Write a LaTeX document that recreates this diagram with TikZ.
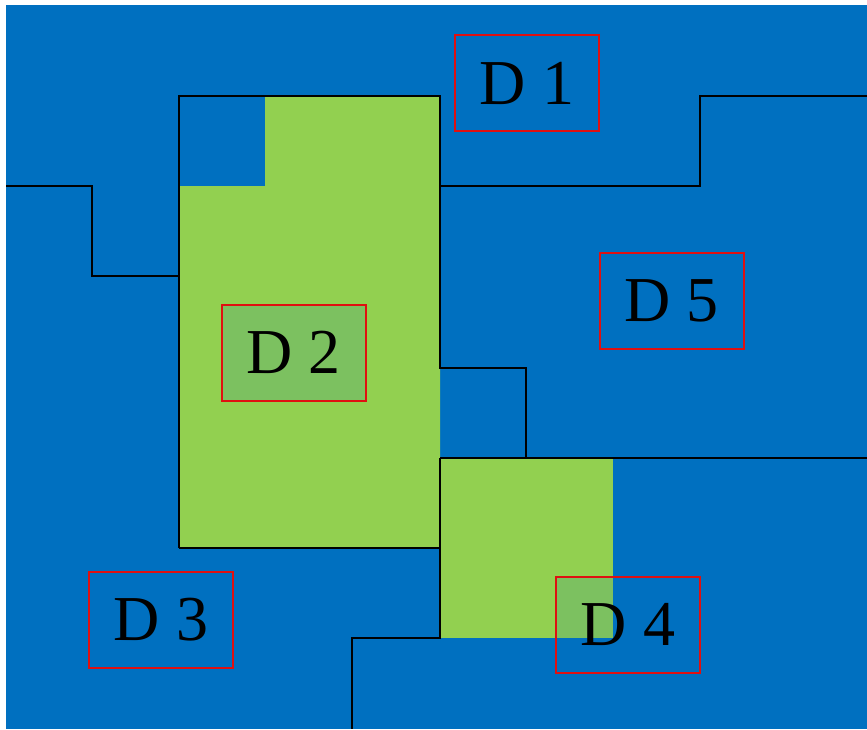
\documentclass[tikz,border=0pt]{standalone}
\usepackage{fontspec}
\setmainfont{Liberation Serif}
\definecolor{bgblue}{HTML}{0070C0}
\definecolor{lgreen}{HTML}{92D050}
\definecolor{boxred}{HTML}{E01010}
\begin{document}
\begin{tikzpicture}[x=1pt,y=-1pt,
  border/.style={draw=black,line width=1.2pt},
  dlabel/.style={draw=boxred,line width=2pt,fill=bgblue,fill opacity=0.15,text opacity=1,
    minimum width=144pt,minimum height=96pt,inner sep=0pt,
    font=\fontsize{64}{64}\selectfont,text=black}]
\useasboundingbox (0,0) rectangle (867,729);
\fill[white] (0,0) rectangle (867,729);
\fill[bgblue] (6,5) rectangle (867,729);
% green regions
\fill[lgreen] (179,186) -- (265,186) -- (265,96) -- (440,96) -- (440,548) -- (179,548) -- cycle;
\fill[lgreen] (440,458) rectangle (613,638);
% boundary lines
\draw[border] (6,186) -- (92,186) -- (92,276) -- (179,276);
\draw[border] (179,548) -- (179,96) -- (440,96) -- (440,368) -- (526,368) -- (526,458);
\draw[border] (440,458) -- (867,458);
\draw[border] (179,548) -- (440,548);
\draw[border] (440,458) -- (440,638) -- (352,638) -- (352,729);
\draw[border] (440,186) -- (700,186) -- (700,96) -- (867,96);
\draw[black,line width=2pt] (179,186) -- (179,548);
% labels
\node[dlabel] (d1) at (527,83) {D 1};
\node[dlabel] (d2) at (293.5,352.5) {D 2};
\node[dlabel] (d5) at (671.5,300.5) {D 5};
\node[dlabel] (d3) at (161,620) {D 3};
\node[dlabel] (d4) at (628,624.5) {D 4};
\end{tikzpicture}
\end{document}
